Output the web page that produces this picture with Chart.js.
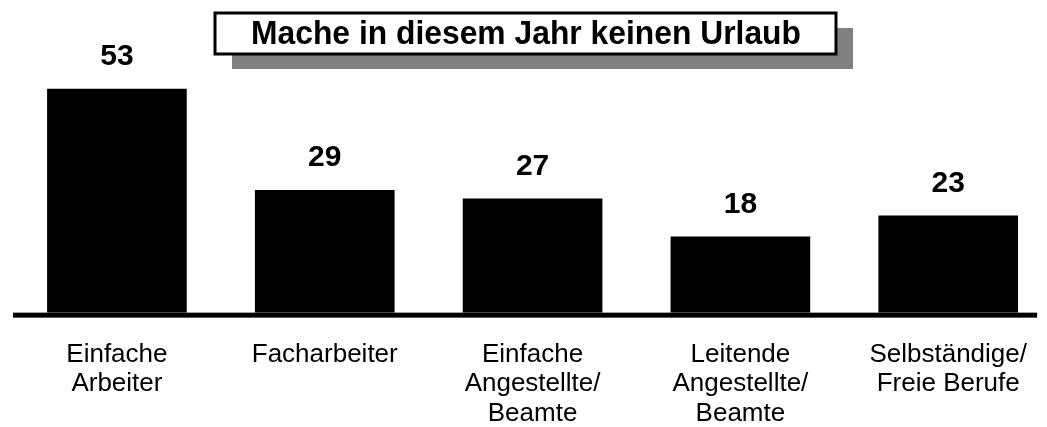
<!DOCTYPE html>
<html>
<head>
<meta charset="utf-8">
<script src="https://cdn.jsdelivr.net/npm/chart.js@4"></script>
<style>
  html, body { margin: 0; padding: 0; background: #fff; overflow: hidden; }
  #wrap { width: 1055px; height: 427px; position: relative; }
</style>
</head>
<body>
<div id="wrap"><canvas id="urlaubChart"></canvas></div>
<script>
const titleText = 'Mache in diesem Jahr keinen Urlaub';
const categories = [
  ['Einfache', 'Arbeiter'],
  ['Facharbeiter'],
  ['Einfache', 'Angestellte/', 'Beamte'],
  ['Leitende', 'Angestellte/', 'Beamte'],
  ['Selbständige/', 'Freie Berufe']
];
const values = [53, 29, 27, 18, 23];

const FONT = 'Arial, "Liberation Sans", sans-serif';

// title box with grey drop shadow
const titleBox = {
  id: 'titleBox',
  afterDraw(chart) {
    const c = chart.ctx;
    c.save();
    const x = 215, y = 13, w = 621, h = 41;
    c.fillStyle = '#808080';
    c.fillRect(x + 17, y + 15, w, h);
    c.fillStyle = '#fff';
    c.fillRect(x, y, w, h);
    c.lineWidth = 3;
    c.strokeStyle = '#000';
    c.strokeRect(x, y, w, h);
    c.fillStyle = '#000';
    c.font = 'bold 33px ' + FONT;
    c.textAlign = 'center';
    c.textBaseline = 'alphabetic';
    c.fillText(titleText, 526, 44, 550);
    c.restore();
  }
};

// value labels above bars + thick base line
const extras = {
  id: 'extras',
  afterDatasetsDraw(chart) {
    const c = chart.ctx;
    const area = chart.chartArea;
    c.save();
    c.fillStyle = '#000';
    c.fillRect(area.left, area.bottom, area.right - area.left - 15, 5);
    c.font = 'bold 30px ' + FONT;
    c.textAlign = 'center';
    c.textBaseline = 'middle';
    chart.getDatasetMeta(0).data.forEach((bar, i) => {
      c.fillText(String(values[i]), bar.x, bar.y - 32);
    });
    c.restore();
  }
};

new Chart(document.getElementById('urlaubChart'), {
  type: 'bar',
  data: {
    labels: categories,
    datasets: [{
      data: values,
      backgroundColor: '#000',
      borderWidth: 0,
      categoryPercentage: 1,
      barPercentage: 0.672
    }]
  },
  options: {
    responsive: true,
    maintainAspectRatio: false,
    animation: false,
    layout: { padding: { left: 13, right: 0, top: 0, bottom: -29 } },
    plugins: {
      legend: { display: false },
      tooltip: { enabled: false }
    },
    scales: {
      y: { display: false, min: 0, max: 74 },
      x: {
        grid: { display: false, drawTicks: false },
        border: { display: false },
        ticks: {
          color: '#000',
          padding: 28,
          maxRotation: 0,
          autoSkip: false,
          font: { family: FONT, size: 26, lineHeight: 1.12 }
        }
      }
    }
  },
  plugins: [titleBox, extras]
});
</script>
</body>
</html>
